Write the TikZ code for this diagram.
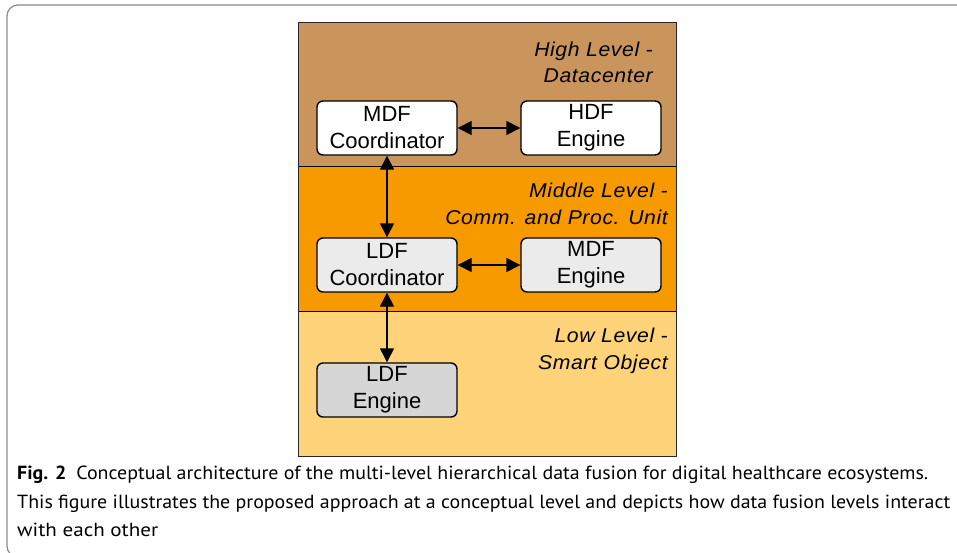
\documentclass[tikz,border=0pt]{standalone}
\usepackage{fontspec}
\setmainfont{Liberation Sans}
\newfontfamily\labfont[FakeStretch=1.06,LetterSpace=3]{Liberation Sans}
\newfontfamily\capfont{PT Sans}
\usetikzlibrary{arrows.meta}
\definecolor{highc}{HTML}{CA945D}
\definecolor{midc}{HTML}{F79A00}
\definecolor{lowc}{HTML}{FED37A}
\definecolor{boxmid}{HTML}{EBEBEB}
\definecolor{boxlow}{HTML}{D6D6D6}
\definecolor{framec}{HTML}{8A8A8A}
\tikzset{
  fbox/.style={draw=black, line width=1.4pt, rounded corners=6pt, minimum width=140pt, minimum height=54pt, inner sep=0pt, align=center, font=\fontsize{22}{27}\selectfont},
  lvl/.style={anchor=base east, inner sep=0pt, font=\labfont\itshape\fontsize{20}{26}\selectfont},
  conn/.style={line width=1.4pt, {Triangle[length=14pt,width=14pt]}-{Triangle[length=14pt,width=14pt]}},
  capline/.style={anchor=base west, inner sep=0pt, font=\capfont\fontsize{19}{28}\selectfont}
}
\begin{document}
\begin{tikzpicture}[x=1pt,y=-1pt]
\useasboundingbox (0,0) rectangle (957,552);
\begin{scope}
\clip (0,0) rectangle (957,552);
\draw[framec, line width=1.2pt, rounded corners=11pt] (7,5) rectangle (990,557);
\end{scope}
% level bands
\fill[highc] (298,22) rectangle (676,166);
\fill[midc] (298,166) rectangle (676,311);
\fill[lowc] (298,311) rectangle (676,456);
\draw[black, line width=0.8pt] (298,166) -- (676,166);
\draw[black, line width=0.8pt] (298,311) -- (676,311);
\draw[black!85, line width=1pt] (298,22) rectangle (676,456);
% level labels
\node[lvl] (h1) at (653,56) {High Level -};
\node[lvl] (h2) at (653,82) {Datacenter};
\node[lvl] (m1) at (668,197) {Middle Level -};
\node[lvl] (m2) at (668,224) {Comm. and Proc. Unit};
\node[lvl] (l1) at (668,342) {Low Level -};
\node[lvl] (l2) at (668,369) {Smart Object};
% boxes
\node[fbox, fill=white] (mdfc) at (387,128) {MDF\\Coordinator};
\node[fbox, fill=white] (hdfe) at (591,128) {HDF\\Engine};
\node[fbox, fill=boxmid] (ldfc) at (387,265) {LDF\\Coordinator};
\node[fbox, fill=boxmid] (mdfe) at (591,265) {MDF\\Engine};
\node[fbox, fill=boxlow] (ldfe) at (387,390) {LDF\\Engine};
% connectors
\draw[conn] (mdfc) -- (hdfe);
\draw[conn] (ldfc) -- (mdfe);
\draw[conn] (mdfc) -- (ldfc);
\draw[conn] (ldfc) -- (ldfe);
% caption
\node[capline] (c1) at (17,479) {\resizebox{911pt}{\height}{\textbf{Fig. 2}\enspace Conceptual architecture of the multi-level hierarchical data fusion for digital healthcare ecosystems.}};
\node[capline] (c2) at (17,508) {\resizebox{933pt}{\height}{This figure illustrates the proposed approach at a conceptual level and depicts how data fusion levels interact}};
\node[capline] (c3) at (17,536) {\resizebox{141pt}{\height}{with each other}};
\end{tikzpicture}
\end{document}
